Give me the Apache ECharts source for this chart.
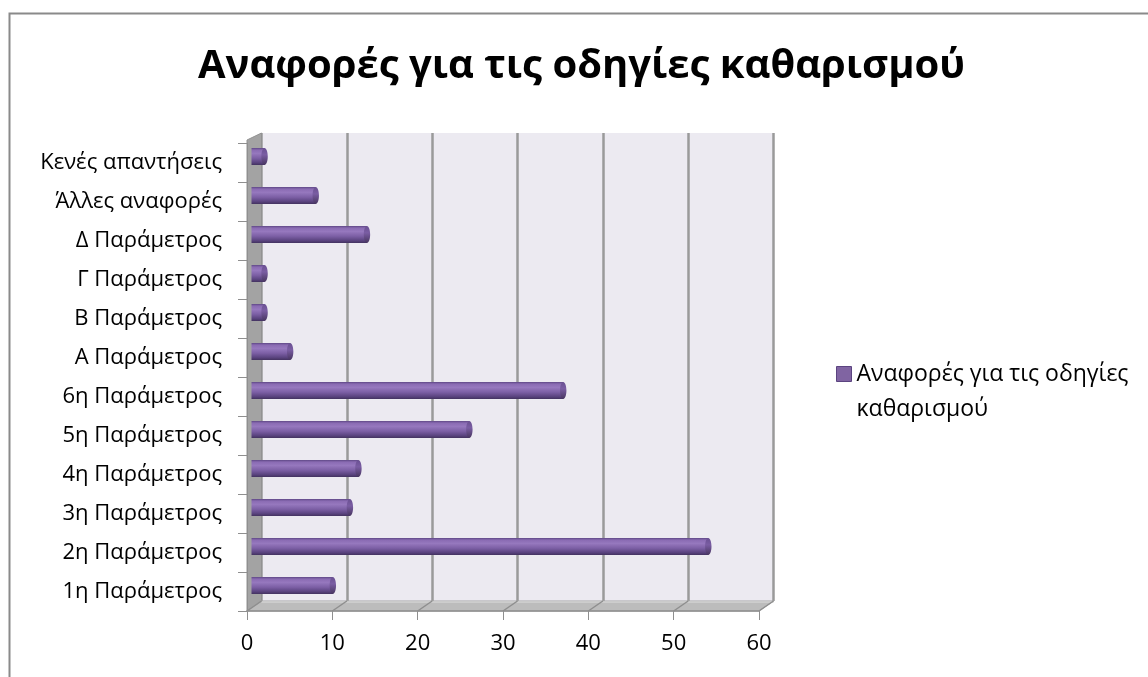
<!DOCTYPE html>
<html>
<head>
<meta charset="utf-8">
<script src="https://cdn.jsdelivr.net/npm/echarts@6/dist/echarts.min.js"></script>
<style>
  html, body { margin: 0; padding: 0; background: #ffffff; }
  #chart { width: 1148px; height: 677px; }
</style>
</head>
<body>
<div id="chart"></div>
<script>
// Data
const categories = [
  '1η Παράμετρος', '2η Παράμετρος', '3η Παράμετρος', '4η Παράμετρος',
  '5η Παράμετρος', '6η Παράμετρος', 'Α Παράμετρος', 'Β Παράμετρος',
  'Γ Παράμετρος', 'Δ Παράμετρος', 'Άλλες αναφορές', 'Κενές απαντήσεις'
];
const values = [10, 54, 12, 13, 26, 37, 5, 2, 2, 14, 8, 2];
const xTicks = [0, 10, 20, 30, 40, 50, 60];
const seriesName = 'Αναφορές για τις οδηγίες καθαρισμού';
const titleText = 'Αναφορές για τις οδηγίες καθαρισμού';
const legendLines = ['Αναφορές για τις οδηγίες', 'καθαρισμού'];

// Layout of the pseudo-3D plot: front plane, bar plane, back wall
const FONT = '"Open Sans", "Noto Sans", sans-serif';
const FRONT = { left: 247, top: 143, width: 512, height: 468 };
const DEPTH = { dx: 14.5, dy: -10 };
const BAR_SHIFT = { dx: 0.5, dy: -6 };
const X_MIN = xTicks[0], X_MAX = xTicks[xTicks.length - 1], X_STEP = xTicks[1] - xTicks[0];
const LEGEND_LINE_H = 35;

const chart = echarts.init(document.getElementById('chart'), null, { renderer: 'canvas' });

const bodyGradient = {
  type: 'linear', x: 0, y: 0, x2: 0, y2: 1,
  colorStops: [
    { offset: 0, color: '#5f4886' },
    { offset: 0.12, color: '#8a6bb3' },
    { offset: 0.32, color: '#9678be' },
    { offset: 0.6, color: '#7c5fa5' },
    { offset: 0.85, color: '#5b4480' },
    { offset: 1, color: '#433260' }
  ]
};
const capGradient = {
  type: 'linear', x: 0, y: 0, x2: 0, y2: 1,
  colorStops: [
    { offset: 0, color: '#6a5092' },
    { offset: 0.4, color: '#7a5da3' },
    { offset: 1, color: '#47355f' }
  ]
};

function renderCylinder(params, api) {
  const v = api.value(0);
  const ci = api.value(1);
  const end = api.coord([v, ci]);
  const start = api.coord([0, ci]);
  const h = 17;
  const y = end[1];
  const x0 = start[0] + 4;
  const x1 = Math.max(end[0], x0 + 2);
  const rx = 3.2;
  return {
    type: 'group',
    children: [
      { type: 'rect', shape: { x: x0, y: y - h / 2, width: x1 - x0, height: h }, style: { fill: bodyGradient } },
      { type: 'ellipse', shape: { cx: x1, cy: y, rx: rx, ry: h / 2 }, style: { fill: capGradient } }
    ]
  };
}

const option = {
  backgroundColor: '#ffffff',
  animation: false,
  textStyle: { fontFamily: FONT },
  title: {
    text: titleText,
    left: 198,
    top: 47,
    padding: 0,
    textStyle: { fontFamily: FONT, fontSize: 40, fontWeight: 'bold', color: '#000000' }
  },
  legend: {
    orient: 'vertical',
    left: 836,
    top: 374 - 1.5 * LEGEND_LINE_H,
    padding: 0,
    icon: 'rect',
    itemWidth: 15,
    itemHeight: 15,
    data: [seriesName],
    // blank first line keeps the square beside the first text line
    formatter: () => '\n' + legendLines.join('\n'),
    textStyle: { fontFamily: FONT, fontSize: 23, lineHeight: LEGEND_LINE_H, color: '#000000' },
    itemStyle: { color: '#8064A2', borderColor: '#5b4480', borderWidth: 1 }
  },
  grid: [
    { left: FRONT.left, top: FRONT.top, width: FRONT.width, height: FRONT.height },
    { left: FRONT.left + BAR_SHIFT.dx, top: FRONT.top + BAR_SHIFT.dy, width: FRONT.width, height: FRONT.height },
    {
      left: FRONT.left + DEPTH.dx, top: FRONT.top + DEPTH.dy, width: FRONT.width, height: FRONT.height,
      show: true, backgroundColor: '#ECEAF1', borderWidth: 0
    }
  ],
  xAxis: [
    {
      gridIndex: 0, type: 'value', min: X_MIN, max: X_MAX, interval: X_STEP, z: 6,
      axisLine: { show: true, lineStyle: { color: '#8f8f8f', width: 1.5 } },
      axisTick: { show: true, length: 9, lineStyle: { color: '#8f8f8f' } },
      axisLabel: { fontFamily: FONT, fontSize: 22, color: '#000000', margin: 22 },
      splitLine: { show: false }
    },
    {
      gridIndex: 1, type: 'value', min: X_MIN, max: X_MAX, interval: X_STEP,
      axisLine: { show: false }, axisTick: { show: false }, axisLabel: { show: false }, splitLine: { show: false }
    },
    {
      gridIndex: 2, type: 'value', min: X_MIN, max: X_MAX, interval: X_STEP, z: 0,
      axisLine: { show: false }, axisTick: { show: false }, axisLabel: { show: false },
      splitLine: { show: true, lineStyle: { color: '#9a9a9a', width: 2.5 } }
    }
  ],
  yAxis: [
    {
      gridIndex: 0, type: 'category', data: categories, z: 6,
      axisLine: { show: true, lineStyle: { color: '#8f8f8f' } },
      axisTick: { show: true, length: 9, interval: 0, lineStyle: { color: '#8f8f8f' } },
      axisLabel: { fontFamily: FONT, fontSize: 22, color: '#000000', margin: 25, interval: 0 },
      splitLine: { show: false }
    },
    {
      gridIndex: 1, type: 'category', data: categories,
      axisLine: { show: false }, axisTick: { show: false }, axisLabel: { show: false }, splitLine: { show: false }
    },
    {
      gridIndex: 2, type: 'category', data: categories,
      axisLine: { show: false }, axisTick: { show: false }, axisLabel: { show: false }, splitLine: { show: false }
    }
  ],
  series: [
    {
      name: seriesName,
      type: 'custom',
      xAxisIndex: 1,
      yAxisIndex: 1,
      z: 5,
      itemStyle: { color: '#8064A2' },
      encode: { x: 0, y: 1 },
      data: values.map((v, i) => [v, i]),
      renderItem: renderCylinder
    }
  ]
};

chart.setOption(option);

// Side wall, floor slab and floor edge lines, placed from the axis scales
const fx = v => chart.convertToPixel({ xAxisIndex: 0 }, v);
const bx = v => chart.convertToPixel({ xAxisIndex: 2 }, v);
const frontBottom = FRONT.top + FRONT.height;
const backBottom = frontBottom + DEPTH.dy;
const backTop = FRONT.top + DEPTH.dy;

const graphics = [
  // outer frame
  {
    type: 'rect', left: 7, top: 11, z: 0,
    shape: { x: 0, y: 0, width: 1160, height: 700 },
    style: { fill: 'none', stroke: '#8a8a8a', lineWidth: 2 }
  },
  // left side wall
  {
    type: 'polygon', z: 1,
    shape: { points: [[fx(X_MIN), FRONT.top - 3], [bx(X_MIN), backTop], [bx(X_MIN), backBottom], [fx(X_MIN), frontBottom]] },
    style: { fill: '#a3a3a3', stroke: '#929292', lineWidth: 1 }
  },
  // floor
  {
    type: 'polygon', z: 1,
    shape: { points: [[fx(X_MIN), frontBottom], [fx(X_MAX), frontBottom], [bx(X_MAX), backBottom], [bx(X_MIN), backBottom]] },
    style: { fill: '#bcbcbc', stroke: '#a5a5a5', lineWidth: 1 }
  },
  {
    type: 'line', z: 1,
    shape: { x1: bx(X_MIN), y1: backBottom + 1, x2: bx(X_MAX), y2: backBottom + 1 },
    style: { stroke: '#d3d3d3', lineWidth: 1.5 }
  }
];
xTicks.forEach(t => {
  graphics.push({
    type: 'line', z: 1,
    shape: { x1: fx(t), y1: frontBottom, x2: bx(t), y2: backBottom },
    style: { stroke: '#8e8e8e', lineWidth: 1.5 }
  });
});
chart.setOption({ graphic: graphics });
</script>
</body>
</html>
